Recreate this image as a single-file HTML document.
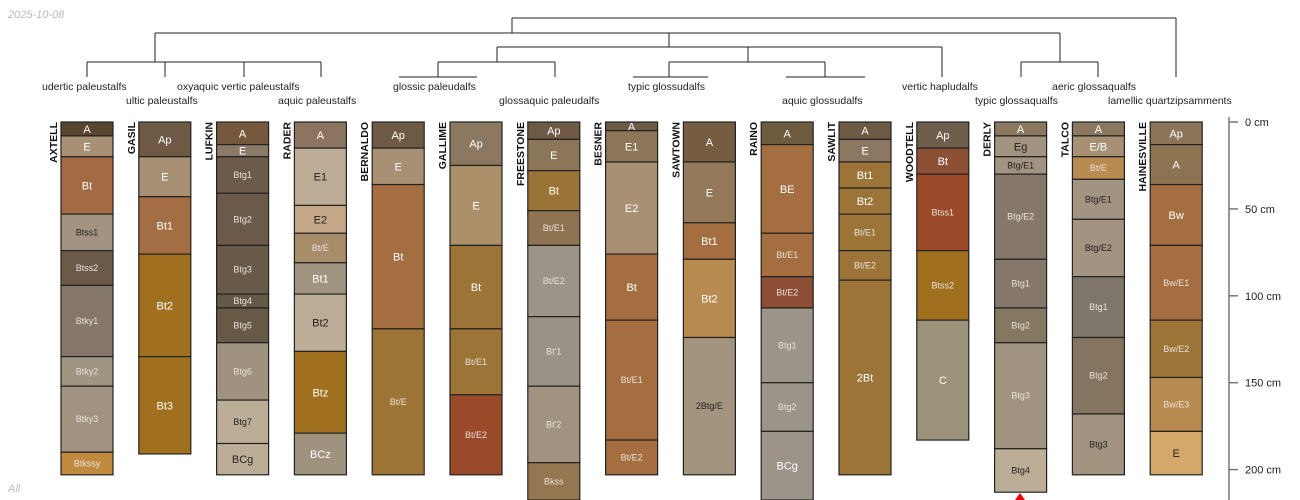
<!DOCTYPE html>
<html><head><meta charset="utf-8"><style>
html,body{margin:0;padding:0;background:#fff;width:1300px;height:500px;overflow:hidden}
svg{display:block;font-family:"Liberation Sans",sans-serif;overflow:hidden}
</style></head><body>
<svg id="chart" width="1300" height="500" viewBox="0 0 1300 500" xmlns="http://www.w3.org/2000/svg">
<text x="8" y="18" font-size="11" font-style="italic" fill="#bbb">2025-10-08</text>
<text x="8" y="492" font-size="11" font-style="italic" fill="#bbb">All</text>
<g id="dendro" stroke="#222" stroke-width="1" fill="none"></g>
<g id="taxa" font-size="10.5" fill="#222"></g>
<g id="profiles"></g>
<g id="axis"></g>
</svg>
<script>
const profileNames=["AXTELL","GASIL","LUFKIN","RADER","BERNALDO","GALLIME","FREESTONE","BESNER","SAWTOWN","RAINO","SAWLIT","WOODTELL","DERLY","TALCO","HAINESVILLE"];
const horizonNames=[
["A","E","Bt","Btss1","Btss2","Btky1","Btky2","Btky3","Btkssy"],
["Ap","E","Bt1","Bt2","Bt3"],
["A","E","Btg1","Btg2","Btg3","Btg4","Btg5","Btg6","Btg7","BCg"],
["A","E1","E2","Bt/E","Bt1","Bt2","Btz","BCz"],
["Ap","E","Bt","Bt/E"],
["Ap","E","Bt","Bt/E1","Bt/E2"],
["Ap","E","Bt","Bt/E1","Bt/E2","Bt'1","Bt'2","Bkss"],
["A","E1","E2","Bt","Bt/E1","Bt/E2"],
["A","E","Bt1","Bt2","2Btg/E"],
["A","BE","Bt/E1","Bt/E2","Btg1","Btg2","BCg"],
["A","E","Bt1","Bt2","Bt/E1","Bt/E2","2Bt"],
["Ap","Bt","Btss1","Btss2","C"],
["A","Eg","Btg/E1","Btg/E2","Btg1","Btg2","Btg3","Btg4"],
["A","E/B","Bt/E","Btg/E1","Btg/E2","Btg1","Btg2","Btg3"],
["Ap","A","Bw","Bw/E1","Bw/E2","Bw/E3","E"]];
const horizonDepths=[
[0,8,20,53,74,94,135,152,190,203],
[0,20,43,76,135,191],
[0,13,20,41,71,99,107,127,160,185,203],
[0,15,48,64,81,99,132,179,203],
[0,15,36,119,203],
[0,25,71,119,157,203],
[0,10,28,51,71,112,152,196,230],
[0,5,23,76,114,183,203],
[0,23,58,79,124,203],
[0,13,64,89,107,150,178,230],
[0,10,23,38,53,74,91,203],
[0,15,30,74,114,183],
[0,8,20,30,79,107,127,188,213],
[0,8,20,33,56,89,124,168,203],
[0,13,36,71,114,147,178,203]];
const horizonColors=[
["#5a4530","#a89075","#a46a44","#a39482","#6b5a48","#85776a","#a09482","#a09480","#c08b3e"],
["#6e5a44","#a89075","#a46e44","#a0701e","#a0701e"],
["#76593c","#8c7a68","#6c5b4a","#6b5a4a","#675a48","#655846","#665946","#9f927e","#bcae96","#bcae96"],
["#8c7560","#bcac96","#c4a888","#a88d6a","#a09480","#bcae96","#a0701e","#9f927e"],
["#6e5a44","#a89075","#a46e40","#9c7436"],
["#8c7860","#ac906a","#9c7438","#9c7438","#9a4a28"],
["#6e5a44","#8c7658","#9a7336","#8f7452","#9c9488","#9a9286","#a09480","#947650"],
["#6e5a44","#8c7658","#a89075","#a46e40","#a46e40","#a46e40"],
["#765c40","#93785a","#a46e40","#b88c50","#a39480"],
["#6e5a3c","#a46e40","#a46e40","#8c4e34","#9c9488","#9c9488","#9c9488"],
["#6e5a44","#8c7860","#9c7438","#9c7438","#9c7438","#9c7438","#9c7438"],
["#6e5e4c","#8c5034","#9a4a28","#a0701e","#9c947a"],
["#8c7860","#a39482","#a39482","#85786a","#85786a","#857860","#a09480","#bcae96"],
["#8c7860","#a89075","#b88c50","#a39482","#a39482","#7e766a","#857560","#a39482"],
["#8c7458","#8c7452","#a46e40","#a46e40","#9c7438","#b88c50","#d4a868"]];
const taxaLabels=["udertic paleustalfs","ultic paleustalfs","oxyaquic vertic paleustalfs","aquic paleustalfs","glossic paleudalfs","glossaquic paleudalfs","typic glossudalfs","aquic glossudalfs","vertic hapludalfs","typic glossaqualfs","aeric glossaqualfs","lamellic quartzipsamments"];
const axisTicks=[0,50,100,150,200];

const NS="http://www.w3.org/2000/svg";
const y0=122, pxPerCm=1.738;
function yScale(d){return y0+d*pxPerCm;}
function xScale(i){return 61+i*77.8;}
const colW=52;
function mk(tag,attrs,parent){const e=document.createElementNS(NS,tag);for(const k in attrs)e.setAttribute(k,attrs[k]);parent.appendChild(e);return e;}
function lum(h){const r=parseInt(h.substr(1,2),16),g=parseInt(h.substr(3,2),16),b=parseInt(h.substr(5,2),16);return 0.299*r+0.587*g+0.114*b;}

const dg=document.getElementById('dendro');
const segs=[[512,18,1176,18],[1176,18,1176,77],[512,18,512,33],[155,33,1060,33],
[155,33,155,62],[87,62,321,62],[87,62,87,77],[165,62,165,77],[244,62,244,77],[321,62,321,77],
[669,33,669,47],[497,47,942,47],[942,47,942,77],[497,47,497,62],[438,62,555,62],[555,62,555,77],[438,62,438,77],[399,77,477,77],
[748,47,748,62],[669,62,825,62],[669,62,669,77],[633,77,708,77],[825,62,825,77],[786,77,865,77],
[1060,33,1060,62],[1021,62,1098,62],[1021,62,1021,77],[1098,62,1098,77]];
segs.forEach(s=>{const l=mk('line',{x1:s[0],y1:s[1],x2:s[2],y2:s[3]},dg);

});
const taxaPos=[[42,90],[126,104],[177,90],[278,104],[393,90],[499,104],[628,90],[782,104],[902,90],[975,104],[1052,90],[1108,104]];
const tg=document.getElementById('taxa');
taxaLabels.forEach((t,i)=>{const e=mk('text',{x:taxaPos[i][0],y:taxaPos[i][1]},tg);e.textContent=t;

});

const pg=document.getElementById('profiles');
profileNames.forEach((name,i)=>{
  const x=xScale(i);
  const g=mk('g',{},pg);
  
  
  const d=horizonDepths[i];
  horizonNames[i].forEach((h,j)=>{
    const ya=yScale(d[j]), yb=Math.min(yScale(d[j+1]),500);
    const r=mk('rect',{x:x,y:ya,width:colW,height:yb-ya,fill:horizonColors[i][j],stroke:'#222','stroke-width':1.2},g);
    
    
    const light=lum(horizonColors[i][j])>150;
    const small=h.length>3;
    const t=mk('text',{x:x+colW/2,y:(ya+yb)/2+(small?3:4),'text-anchor':'middle','font-size':small?9:11,fill:light?'#222':(small?'#e8e2da':'#fff')},g);
    t.textContent=h;
    
    
  });
  const nt=mk('text',{x:0,y:0,transform:'translate('+(x-4)+','+y0+') rotate(-90)','text-anchor':'end','font-size':10.5,'font-weight':'bold',fill:'#111'},g);
  nt.textContent=name;
  
  
});
const tri=mk('polygon',{points:'1020,493 1015,500 1025,500',fill:'#e00'},pg);



const ag=document.getElementById('axis');
const al=mk('line',{x1:1229,y1:117,x2:1229,y2:500,stroke:'#777','stroke-width':1.5},ag);


axisTicks.forEach(v=>{
  const y=yScale(v);
  const tk=mk('line',{x1:1229,y1:y,x2:1238,y2:y,stroke:'#777','stroke-width':1.5},ag);
  
  
  const tx=mk('text',{x:1245,y:y+4,'font-size':11,fill:'#222'},ag);
  tx.textContent=v+' cm';
  
  
});
</script>
</body></html>
